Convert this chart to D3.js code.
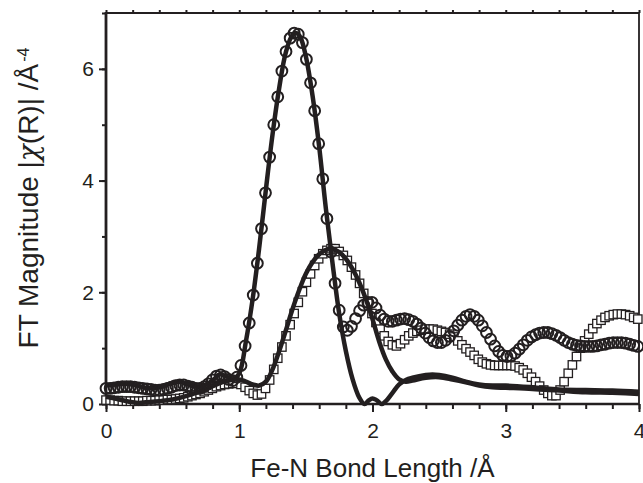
<!DOCTYPE html>
<meta charset="utf-8">

<!-- Load d3.js -->
<script src="https://d3js.org/d3.v7.min.js"></script>

<style>
  body {margin: 0; background: #fff;}
  svg {display: block; font-family: Arial, "Liberation Sans", sans-serif;}
</style>

<div id="my_dataviz"></div>

<script>

// R grid of the measured spectra (Å)
var rData = [0,0.031,0.061,0.092,0.123,0.154,0.184,0.215,0.246,0.276,
  0.307,0.338,0.368,0.399,0.430,0.461,0.491,0.522,0.553,0.583,
  0.614,0.645,0.675,0.706,0.737,0.768,0.798,0.829,0.860,0.890,
  0.921,0.952,0.982,1.013,1.044,1.075,1.105,1.136,1.167,1.197,
  1.228,1.259,1.289,1.320,1.351,1.382,1.412,1.443,1.474,1.504,
  1.535,1.566,1.596,1.627,1.658,1.689,1.719,1.750,1.781,1.811,
  1.842,1.873,1.903,1.934,1.965,1.996,2.026,2.057,2.088,2.118,
  2.149,2.180,2.210,2.241,2.272,2.303,2.333,2.364,2.395,2.425,
  2.456,2.487,2.517,2.548,2.579,2.610,2.640,2.671,2.702,2.732,
  2.763,2.794,2.824,2.855,2.886,2.917,2.947,2.978,3.009,3.039,
  3.070,3.101,3.131,3.162,3.193,3.224,3.254,3.285,3.316,3.346,
  3.377,3.408,3.438,3.469,3.500,3.531,3.561,3.592,3.623,3.653,
  3.684,3.715,3.745,3.776,3.807,3.838,3.868,3.899,3.930,3.960,3.991];

// circles (sample A, data)
var circlesA = [0.28,0.28,0.29,0.30,0.31,0.31,0.31,0.30,0.29,0.28,
  0.27,0.26,0.25,0.25,0.26,0.28,0.30,0.33,0.34,0.34,
  0.32,0.30,0.28,0.28,0.31,0.36,0.43,0.50,0.52,0.49,
  0.44,0.42,0.48,0.69,1.04,1.45,1.95,2.52,3.14,3.78,
  4.42,5.00,5.50,5.96,6.31,6.55,6.64,6.62,6.47,6.17,
  5.75,5.25,4.66,4.03,3.32,2.72,2.16,1.68,1.38,1.32,
  1.39,1.53,1.67,1.77,1.82,1.82,1.72,1.59,1.52,1.48,
  1.48,1.50,1.52,1.53,1.51,1.48,1.43,1.36,1.27,1.19,
  1.13,1.10,1.10,1.14,1.21,1.31,1.41,1.50,1.57,1.60,
  1.57,1.50,1.40,1.28,1.16,1.04,0.94,0.87,0.85,0.86,
  0.91,0.98,1.06,1.14,1.20,1.24,1.27,1.28,1.28,1.26,
  1.23,1.19,1.14,1.10,1.07,1.05,1.04,1.03,1.03,1.03,
  1.04,1.06,1.07,1.09,1.10,1.10,1.10,1.09,1.07,1.05,1.03];

// squares (sample B, data)
var squaresB = [0.07,0.07,0.06,0.06,0.05,0.05,0.05,0.05,0.05,0.05,
  0.06,0.06,0.06,0.07,0.07,0.08,0.08,0.09,0.10,0.11,
  0.13,0.15,0.17,0.19,0.22,0.25,0.28,0.31,0.33,0.35,
  0.36,0.37,0.37,0.35,0.30,0.24,0.19,0.16,0.18,0.28,
  0.43,0.62,0.82,1.02,1.22,1.42,1.62,1.82,2.01,2.18,
  2.33,2.48,2.60,2.69,2.75,2.78,2.78,2.73,2.66,2.57,
  2.45,2.31,2.16,1.98,1.80,1.62,1.46,1.34,1.22,1.12,
  1.06,1.04,1.08,1.15,1.22,1.27,1.30,1.32,1.34,1.34,
  1.34,1.32,1.30,1.28,1.25,1.20,1.13,1.06,0.99,0.93,
  0.87,0.80,0.75,0.72,0.70,0.69,0.69,0.69,0.69,0.69,
  0.68,0.65,0.61,0.55,0.48,0.40,0.32,0.25,0.19,0.15,
  0.15,0.25,0.40,0.55,0.70,0.85,1.00,1.13,1.25,1.35,
  1.44,1.50,1.55,1.58,1.60,1.61,1.61,1.60,1.58,1.55,1.52];

// fit through sample A
var fitAR = [0,0.1,0.2,0.3,0.4,0.5,0.55,0.6,0.7,0.8,0.85,0.9,0.95,1.0,1.05,1.1,1.15,1.2,1.25,1.3,
  1.35,1.4,1.43,1.46,1.5,1.55,1.6,1.65,1.7,1.75,1.8,1.85,1.9,1.94,1.97,2.0,2.03,2.07,2.1,2.15,
  2.2,2.25,2.3,2.4,2.45,2.5,2.6,2.7,2.8,2.9,3.0,3.2,3.4,3.6,3.8,4.0];
var fitA = [0.33,0.36,0.35,0.29,0.30,0.38,0.40,0.36,0.31,0.42,0.53,0.50,0.44,0.55,1.12,1.87,2.80,3.84,4.83,5.66,
  6.30,6.61,6.64,6.56,6.22,5.52,4.60,3.50,2.52,1.62,0.95,0.45,0.12,0.0,0.06,0.10,0.07,0.0,0.05,0.20,
  0.35,0.43,0.47,0.52,0.53,0.52,0.47,0.40,0.35,0.33,0.33,0.30,0.26,0.25,0.24,0.22];

// fit through sample B
var fitBR = [0,0.1,0.2,0.25,0.3,0.4,0.5,0.6,0.7,0.8,0.9,1.0,1.05,1.1,1.15,1.2,1.25,1.3,1.35,1.4,
  1.45,1.5,1.55,1.6,1.65,1.7,1.75,1.8,1.85,1.9,1.95,2.0,2.05,2.1,2.15,2.2,2.25,2.3,2.4,2.5,
  2.6,2.7,2.8,2.9,3.0,3.2,3.4,3.6,3.8,4.0];
var fitB = [0.13,0.08,0.03,0.02,0.03,0.05,0.08,0.14,0.22,0.32,0.41,0.44,0.40,0.35,0.33,0.40,0.62,0.95,1.32,1.70,
  2.04,2.33,2.54,2.68,2.76,2.77,2.72,2.60,2.42,2.18,1.88,1.52,1.12,0.80,0.58,0.44,0.40,0.42,0.47,0.48,
  0.44,0.39,0.33,0.30,0.29,0.27,0.24,0.21,0.20,0.18];

var xTicks = [0, 1, 2, 3, 4];
var yTicks = [0, 2, 4, 6];

var ink = "#231f20";

// dimensions
var W = 643, H = 483;
var margin = {top: 13, right: 4, bottom: 79, left: 106},
    width = W - margin.left - margin.right,
    height = H - margin.top - margin.bottom;

var svg = d3.select("#my_dataviz")
  .append("svg")
    .attr("width", W)
    .attr("height", H)
  .append("g")
    .attr("transform", "translate(" + margin.left + "," + margin.top + ")");

var x = d3.scaleLinear().domain([0, 4]).range([0, width]);
var y = d3.scaleLinear().domain([0, 7]).range([height, 0]);

// minor ticks
svg.append("g")
  .attr("transform", "translate(0," + height + ")")
  .call(d3.axisBottom(x).tickValues(d3.range(0, 4.001, 0.2)).tickSize(5).tickFormat(""));
svg.append("g")
  .call(d3.axisLeft(y).tickValues(d3.range(0, 7.001, 1)).tickSize(4).tickFormat(""));
svg.append("g")
  .call(d3.axisTop(x).tickValues(d3.range(0, 4.001, 0.2)).tickSize(3).tickFormat(""));

// major ticks + labels
svg.append("g")
  .attr("class", "xmajor")
  .attr("transform", "translate(0," + height + ")")
  .call(d3.axisBottom(x).tickValues(xTicks).tickSize(8).tickPadding(11).tickFormat(d3.format("d")));
svg.append("g")
  .attr("class", "ymajor")
  .call(d3.axisLeft(y).tickValues(yTicks).tickSize(7).tickPadding(5).tickFormat(d3.format("d")));

svg.selectAll(".domain").remove();
svg.selectAll(".tick line").attr("stroke", ink).attr("stroke-width", 2);
svg.selectAll(".tick text")
  .attr("fill", ink)
  .style("font-size", "21px")
  .style("font-family", "Arial, 'Liberation Sans', sans-serif");

// frame
svg.append("line").attr("x1", 0).attr("x2", width).attr("y1", 0).attr("y2", 0)
  .attr("stroke", ink).attr("stroke-width", 1.8);
svg.append("line").attr("x1", width).attr("x2", width).attr("y1", 0).attr("y2", height)
  .attr("stroke", ink).attr("stroke-width", 1.8);
svg.append("line").attr("x1", 0).attr("x2", width).attr("y1", height).attr("y2", height)
  .attr("stroke", ink).attr("stroke-width", 2.6);
svg.append("line").attr("x1", 0).attr("x2", 0).attr("y1", -1).attr("y2", height + 1)
  .attr("stroke", ink).attr("stroke-width", 2.8);

// squares
svg.selectAll("mysquare")
  .data(squaresB)
  .enter()
  .append("rect")
    .attr("x", function(d, i) { return x(rData[i]) - 4.2; })
    .attr("y", function(d) { return y(d) - 4.2; })
    .attr("width", 8.4)
    .attr("height", 8.4)
    .attr("fill", "#fff")
    .attr("stroke", ink)
    .attr("stroke-width", 1.3);

// fit lines
var line = d3.line().curve(d3.curveCatmullRom.alpha(0.5));
svg.append("path")
  .datum(fitBR.map(function(r, i) { return [x(r), y(fitB[i])]; }))
  .attr("d", line)
  .attr("fill", "none")
  .attr("stroke", ink)
  .attr("stroke-width", 4.5)
  .attr("stroke-linejoin", "round");
svg.append("path")
  .datum(fitAR.map(function(r, i) { return [x(r), y(fitA[i])]; }))
  .attr("d", line)
  .attr("fill", "none")
  .attr("stroke", ink)
  .attr("stroke-width", 4.5)
  .attr("stroke-linejoin", "round");

// circles
svg.selectAll("mycircle")
  .data(circlesA)
  .enter()
  .append("circle")
    .attr("cx", function(d, i) { return x(rData[i]); })
    .attr("cy", function(d) { return y(d); })
    .attr("r", 5.4)
    .attr("fill", "none")
    .attr("stroke", ink)
    .attr("stroke-width", 2);

// axis titles
svg.append("text")
  .attr("x", width / 2)
  .attr("y", height + 73)
  .attr("text-anchor", "middle")
  .attr("fill", ink)
  .style("font-size", "26px")
  .text("Fe-N Bond Length /Å");

var yt = svg.append("text")
  .attr("transform", "translate(" + (38 - margin.left) + "," + (198 - margin.top) + ") rotate(-90)")
  .attr("text-anchor", "middle")
  .attr("fill", ink)
  .style("font-size", "28px");
yt.append("tspan").text("FT Magnitude |");
yt.append("tspan").style("font-family", "'DejaVu Serif', serif").style("font-style", "italic").text("χ");
yt.append("tspan").text("(R)| /Å");
yt.append("tspan").attr("dy", "-0.55em").attr("dx", "2").style("font-size", "16px").text("-4");

</script>
